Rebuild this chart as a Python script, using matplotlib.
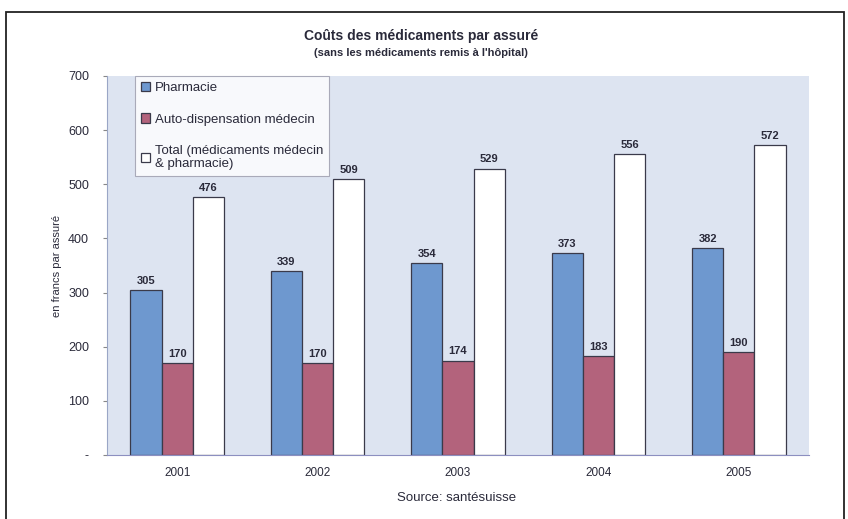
import matplotlib
matplotlib.use("Agg")
import matplotlib.pyplot as plt
import numpy as np
from matplotlib.patches import Rectangle

plt.rcParams['font.family'] = ['Liberation Sans', 'DejaVu Sans']

years = ['2001', '2002', '2003', '2004', '2005']
pharmacie = [305, 339, 354, 373, 382]
auto_disp = [170, 170, 174, 183, 190]
total = [476, 509, 529, 556, 572]
labels = ['Pharmacie', 'Auto-dispensation médecin',
          'Total (médicaments médecin\n& pharmacie)']
y_ticks = [0, 100, 200, 300, 400, 500, 600, 700]
y_ticklabels = ['-', '100', '200', '300', '400', '500', '600', '700']

W, H = 848, 519
fig = plt.figure(figsize=(W / 100, H / 100), dpi=100)
fig.patch.set_facecolor('white')

# outer frame
fig.add_artist(Rectangle((6 / W, -0.05), 838 / W, 1.05 - 12 / H,
                         transform=fig.transFigure, fill=False,
                         edgecolor='#222222', linewidth=1.3))

ax = fig.add_axes([107 / W, 1 - 455 / H, 702 / W, 379 / H])
ax.set_facecolor('#dde4f1')

x = np.arange(len(years))
bw = 0.222
txt = '#2a2a3a'
series = [(pharmacie, '#6e98cf'), (auto_disp, '#b3637c'), (total, 'white')]
for i, (vals, col) in enumerate(series):
    pos = x + (i - 1) * bw
    ax.bar(pos, vals, width=bw, color=col, edgecolor='#3a3a4a',
           linewidth=0.9, label=labels[i], zorder=2)
    for p, v in zip(pos, vals):
        ax.text(p, v + 8, str(v), ha='center', va='bottom', fontsize=8,
                fontweight='bold', color=txt, zorder=3)

ax.set_xlim(-0.5, 4.5)
ax.set_ylim(0, 700)
ax.set_yticks(y_ticks)
ax.set_yticklabels(y_ticklabels, fontsize=9, color=txt)
ax.set_xticks(x)
ax.set_xticklabels(years, fontsize=8.5, color=txt)
ax.tick_params(axis='x', length=0, pad=9)
ax.tick_params(axis='y', length=3, pad=10, direction='out', color='#888888')
for s in ['top', 'right']:
    ax.spines[s].set_visible(False)
ax.spines['left'].set_color('#9aa6c6')
ax.spines['bottom'].set_color('#8c8fc0')
ax.set_ylabel('en francs par assuré', fontsize=8, color=txt, labelpad=4)

leg = ax.legend(loc='upper left', bbox_to_anchor=(28 / 702, 1.0),
                fontsize=9.5, frameon=True, fancybox=False,
                handlelength=0.7, handleheight=0.7, handletextpad=0.35,
                labelspacing=1.45, borderpad=0.45, borderaxespad=0)
leg.get_frame().set_edgecolor('#9999aa')
leg.get_frame().set_linewidth(0.8)
for t in leg.get_texts():
    t.set_color(txt)

fig.text(421 / W, 1 - 36 / H, 'Coûts des médicaments par assuré',
         ha='center', va='center', fontsize=10, fontweight='bold', color=txt)
fig.text(421 / W, 1 - 53 / H, "(sans les médicaments remis à l'hôpital)",
         ha='center', va='center', fontsize=8, fontweight='bold', color=txt)
fig.text(457 / W, 1 - 498 / H, 'Source: santésuisse',
         ha='center', va='center', fontsize=9.5, color=txt)

fig.savefig('out.png', dpi=100)
